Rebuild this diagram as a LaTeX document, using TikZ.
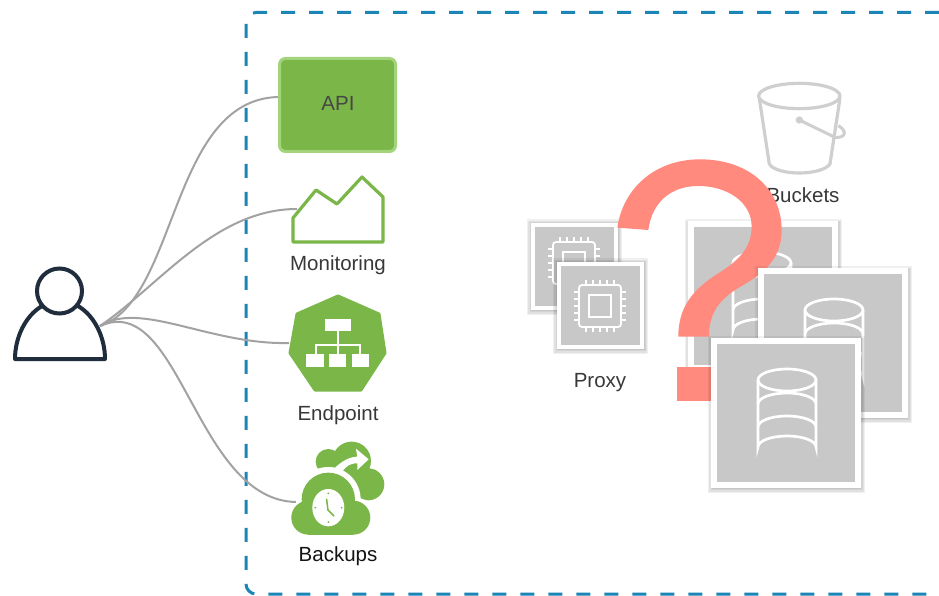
\documentclass[tikz,border=0pt]{standalone}
\usepackage{fontspec}
\setmainfont{Liberation Sans}
\usetikzlibrary{shadows}
\definecolor{grn}{HTML}{7AB648}
\definecolor{grnlight}{HTML}{A3D47C}
\definecolor{frameblue}{HTML}{1B85B8}
\definecolor{wire}{HTML}{A2A2A2}
\definecolor{navy}{HTML}{1F2D3D}
\definecolor{boxgray}{HTML}{C8C8C8}
\definecolor{buck}{HTML}{CFCFCF}
\definecolor{salmon}{HTML}{FF8A7D}
\tikzset{
  softlayer/.style 2 args={general shadow={shadow xshift=0.5pt,shadow yshift=#2,shadow scale=#1,fill=black,opacity=.06}},
  proxybox/.style={draw=white,line width=4pt,fill=boxgray,minimum size=83pt,inner sep=0pt,
    softlayer={1.15}{-1pt},softlayer={1.115}{-1.5pt},softlayer={1.085}{-1pt},softlayer={1.06}{-1pt}},
  dbbox/.style={draw=white,line width=6pt,fill=boxgray,minimum size=144pt,inner sep=0pt,
    softlayer={1.09}{-1pt},softlayer={1.07}{-1.5pt},softlayer={1.055}{-1pt},softlayer={1.04}{-1pt}},
  frameline/.style={draw=frameblue,line width=3pt,dash pattern=on 14pt off 14pt,rounded corners=10pt},
  wireline/.style={draw=wire,line width=2pt},
  lbl/.style={font=\fontsize{20.5}{24}\selectfont,text=black!78,inner sep=0pt},
  iconline/.style={draw=white,line width=1.8pt},
  zoomed/.style={shift={(510,60)},x=0.3333pt,y=-0.3333pt},
  zoomedb/.style={shift={(0,296)},x=0.3333pt,y=-0.3333pt}
}
\newcommand{\chipicon}[2]{%
  \begin{scope}[shift={(#1,#2)}]
    \draw[iconline,rounded corners=3pt] (-21,-21) rectangle (21,21);
    \draw[iconline] (-11,-11) rectangle (11,11);
    \foreach \p in {-14,-7,0,7,14}{
      \draw[iconline,line width=1.3pt] (\p,-21) -- (\p,-26) (\p,21) -- (\p,26) (-21,\p) -- (-26,\p) (21,\p) -- (26,\p);
    }
  \end{scope}}
\newcommand{\dbicon}[2]{%
  \begin{scope}[shift={(#1,#2)}]
    \draw[iconline,line width=2.7pt] (0,0) ellipse [x radius=29,y radius=11];
    \draw[iconline,line width=2.7pt] (-29,0) -- (-29,67) arc[start angle=180,end angle=360,x radius=29,y radius=11] -- (29,0);
    \draw[iconline,line width=2.7pt] (-29,24) arc[start angle=180,end angle=360,x radius=29,y radius=11];
    \draw[iconline,line width=2.7pt] (-29,47) arc[start angle=180,end angle=360,x radius=29,y radius=11];
  \end{scope}}
\begin{document}
\begin{tikzpicture}[x=1pt,y=-1pt]
\useasboundingbox (0,0) rectangle (939,596);
\fill[white] (0,0) rectangle (939,596);

% dashed boundary
\draw[frameline] (939,12.5) -- (246,12.5) -- (246,594) -- (939,594);

% named anchors
\coordinate (user) at (100,326);
\coordinate (monIn) at (297,209);
\coordinate (endIn) at (289,343);
\coordinate (bakIn) at (296,502);

% API
\node[draw=grnlight,line width=3pt,fill=grn,rounded corners=6pt,minimum width=116pt,minimum height=93pt,inner sep=0pt] (api) at (337.5,105) {};
\node[lbl,text=black!72] (apitext) at (338,103) {API};

% connectors
\draw[wireline] (user) .. controls (178,300) and (170,100) .. (api.west |- 0,97);
\draw[wireline] (user) .. controls (160,285) and (215,209) .. (monIn);
\draw[wireline] (user) .. controls (140,300) and (210,345) .. (endIn);
\draw[wireline] (user) .. controls (180,290) and (195,500) .. (bakIn);

% user icon
\draw[navy,line width=4pt] (59.5,291) circle [radius=22.5];
\draw[navy,line width=4pt,line join=round,line cap=round] (42,306) .. controls (25,316) and (15,338) .. (15,359) -- (105,359) .. controls (105,338) and (95,316) .. (78,306);

% monitoring
\draw[grn,line width=3.2pt,line join=round] (293,242) -- (293,218) -- (316,190) -- (337,204) -- (362,177) -- (383,197) -- (383,242) -- cycle;
\node[lbl] (monlabel) at (338,265.5) {Monitoring};

% endpoint
\fill[grn,draw=grn,line width=3pt,line join=round] (338,296) -- (379,314) -- (385,353) -- (361,390) -- (315,390) -- (290,353) -- (297,314) -- cycle;
\begin{scope}[zoomedb]
  \fill[white] (975,70) rectangle (1052,105);
  \fill[white] (918,175) rectangle (972,213);
  \fill[white] (988,175) rectangle (1037,213);
  \fill[white] (1055,175) rectangle (1108,213);
  \draw[white,line width=1.8pt] (1013,105) -- (1013,175) (948,175) -- (948,147) -- (1080,147) -- (1080,175);
\end{scope}
\node[lbl] (endlabel) at (338,415.5) {Endpoint};

% backups
\begin{scope}[zoomedb]
  \fill[grn] (985,497) circle [radius=38];
  \fill[grn] (1055,495) circle [radius=58];
  \fill[grn] (1105,565) circle [radius=48];
  \fill[grn] (1000,510) rectangle (1100,600);
  \fill[white] (985,610) circle [radius=97];
  \fill[white] (1072,665) circle [radius=58];
  \fill[white] (1000,520) .. controls (1025,495) and (1050,482) .. (1072,482) -- (1068,458) -- (1106,490) -- (1072,522) -- (1072,502) .. controls (1050,502) and (1040,510) .. (1028,525) -- cycle;
  \fill[grn] (985,610) circle [radius=80];
  \fill[grn] (925,665) circle [radius=51];
  \fill[grn] (1060,665) circle [radius=51];
  \fill[grn] (925,640) rectangle (1060,716);
  \fill[white] (985,635) ellipse [x radius=48,y radius=56];
  \draw[grn,line width=1.5pt,line cap=round] (980,610) -- (984,642) -- (1002,660);
  \foreach \a/\b in {985/592,985/678,946/635,1025/635}{\fill[grn] (\a,\b) circle [radius=3];}
\end{scope}
\node[lbl,text=black!92] (baklabel) at (338,556) {Backups};

% bucket
\begin{scope}[zoomed]
  \draw[buck,line width=3.2pt] (868,108) ellipse [x radius=122,y radius=38];
  \draw[buck,line width=3.2pt] (748,115) -- (778,312) .. controls (800,348) and (935,348) .. (960,312) -- (990,115);
  \draw[buck,line width=3pt] (868,180) -- (975,232) .. controls (1005,235) and (1015,215) .. (985,197);
  \fill[buck] (868,180) circle [radius=11];
\end{scope}
\node[lbl] (bucklabel) at (803,195) {Buckets};

% proxies
\node[proxybox] (p1) at (574,266) {};
\chipicon{574}{263}
\node[proxybox] (p2) at (600,305) {};
\chipicon{600}{306}
\node[lbl] (proxylabel) at (600,382.5) {Proxy};

% first database
\node[dbbox] (d1) at (763,296) {};
\dbicon{762}{263}

% question mark
\begin{scope}[zoomed]
  \fill[salmon] (322,503) .. controls (340,380) and (440,298) .. (570,298) .. controls (720,298) and (815,390) .. (815,510) .. controls (815,590) and (770,635) .. (700,675) .. controls (630,715) and (597,755) .. (597,830) -- (505,830) .. controls (505,745) and (545,690) .. (625,640) .. controls (690,600) and (725,560) .. (725,500) .. controls (725,425) and (650,378) .. (565,378) .. controls (480,378) and (425,430) .. (415,510) -- cycle;
  \fill[salmon] (502,922) rectangle (610,1022);
\end{scope}

% other databases
\node[dbbox] (d2) at (833,343) {};
\dbicon{834}{310}
\node[dbbox] (d3) at (786,413) {};
\dbicon{787}{380}
\end{tikzpicture}
\end{document}
